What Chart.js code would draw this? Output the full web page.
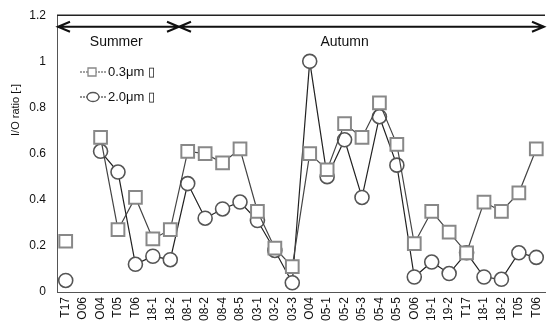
<!DOCTYPE html>
<html lang="en">
<head>
  <meta charset="UTF-8">
  <title>I/O ratio</title>
  <style>
    html, body { margin: 0; padding: 0; background: #fff; }
    #wrap { width: 556px; height: 323px; }
  </style>
</head>
<body>
  <div id="wrap"><canvas id="canvas"></canvas></div>
  <script src="https://cdn.jsdelivr.net/npm/chart.js"></script>
  <script>
    const labels = ['T17', 'O06', 'O04', 'T05', 'T06', '18-1', '18-2', '08-1', '08-2', '08-4', '08-5', '03-1', '03-2', '03-3',
      'O04', '05-1', '05-2', '05-3', '05-4', '05-5', 'O06', '19-1', '19-2', 'T17', '18-1', '18-2', 'T05', 'T06'];
    const ratio03 = [0.22, null, 0.67, 0.27, 0.41, 0.23, 0.27, 0.61, 0.60, 0.56, 0.62, 0.35, 0.19, 0.11,
      0.60, 0.53, 0.73, 0.67, 0.82, 0.64, 0.21, 0.35, 0.26, 0.17, 0.39, 0.35, 0.43, 0.62];
    const ratio20 = [0.05, null, 0.61, 0.52, 0.12, 0.155, 0.14, 0.47, 0.32, 0.36, 0.39, 0.31, 0.18, 0.04,
      1.0, 0.50, 0.66, 0.41, 0.76, 0.55, 0.065, 0.13, 0.08, 0.17, 0.065, 0.055, 0.17, 0.15];
    const seasons = [
      { name: 'Summer', from: -0.5, to: 6.5, textAt: 2.9 },
      { name: 'Autumn', from: 6.5, to: 27.6, textAt: 16 }
    ];
    const seriesNames = ['0.3\u03bcm \u25af', '2.0\u03bcm \u25af'];
    const yTitle = 'I/O ratio [-]';

    const font = 'Liberation Sans, Arial, sans-serif';

    // arrows, season names, y title and the legend inside the plot
    const extras = {
      id: 'extras',
      afterDraw(chart) {
        const ctx = chart.ctx;
        const x = chart.scales.x, y = chart.scales.y;
        const ay = y.getPixelForValue(1.15);
        ctx.save();
        ctx.strokeStyle = '#111';
        ctx.fillStyle = '#111';
        ctx.lineWidth = 2;
        seasons.forEach(s => {
          const x0 = Math.max(chart.chartArea.left + 1, x.getPixelForValue(s.from));
          const x1 = Math.min(chart.chartArea.right - 1, x.getPixelForValue(s.to));
          ctx.beginPath();
          ctx.moveTo(x0, ay); ctx.lineTo(x1, ay);
          ctx.moveTo(x0 + 12, ay - 5); ctx.lineTo(x0, ay); ctx.lineTo(x0 + 12, ay + 5);
          ctx.moveTo(x1 - 12, ay - 5); ctx.lineTo(x1, ay); ctx.lineTo(x1 - 12, ay + 5);
          ctx.stroke();
          ctx.font = '14px ' + font;
          ctx.textAlign = 'center';
          ctx.textBaseline = 'middle';
          ctx.fillText(s.name, x.getPixelForValue(s.textAt), 42);
        });
        // y title
        ctx.save();
        ctx.translate(16, 110);
        ctx.rotate(-Math.PI / 2);
        ctx.font = '11px ' + font;
        ctx.fillText(yTitle, 0, 0);
        ctx.restore();
        // legend
        chart.data.datasets.forEach((ds, i) => {
          const ly = 72 + i * 25;
          ctx.lineWidth = 1;
          ctx.strokeStyle = ds.borderColor;
          ctx.setLineDash([2, 1]);
          ctx.beginPath(); ctx.moveTo(80, ly); ctx.lineTo(106, ly); ctx.stroke();
          ctx.setLineDash([]);
          ctx.strokeStyle = ds.pointBorderColor;
          ctx.fillStyle = '#fff';
          ctx.lineWidth = 1.3;
          ctx.beginPath();
          if (ds.pointStyle === 'rect') ctx.rect(88, ly - 4, 8, 8);
          else { ctx.ellipse(93, ly, 6, 4.5, 0, 0, Math.PI * 2); }
          ctx.fill(); ctx.stroke();
          ctx.fillStyle = '#111';
          ctx.font = '13px ' + font;
          ctx.textAlign = 'left';
          ctx.fillText(ds.label, 108, ly);
        });
        ctx.restore();
      }
    };

    const data = {
      labels: labels,
      datasets: [{
        label: seriesNames[0],
        data: ratio03,
        borderColor: '#444',
        borderWidth: 1.2,
        pointStyle: 'rect',
        pointRadius: 9,
        pointBorderColor: '#888',
        pointBorderWidth: 2,
        pointBackgroundColor: '#fff',
        spanGaps: false
      }, {
        label: seriesNames[1],
        data: ratio20,
        borderColor: '#222',
        borderWidth: 1.2,
        pointStyle: 'circle',
        pointRadius: 7,
        pointBorderColor: '#555',
        pointBorderWidth: 1.6,
        pointBackgroundColor: '#fff',
        spanGaps: false
      }]
    };

    const config = {
      type: 'line',
      data: data,
      options: {
        responsive: true,
        maintainAspectRatio: false,
        animation: false,
        layout: { padding: { top: 9, right: 0, left: 0, bottom: 0 } },
        plugins: { legend: { display: false }, tooltip: { enabled: false } },
        scales: {
          x: {
            offset: true,
            grid: { display: false, drawTicks: true, tickLength: 3, color: '#555' },
            border: { color: '#555', dash: [2, 2], width: 1 },
            ticks: { minRotation: 90, maxRotation: 90, padding: 2, color: '#111', font: { size: 12, family: font }, autoSkip: false },
            afterFit(s) { s.height = 31; }
          },
          y: {
            min: 0, max: 1.2,
            grid: { display: false, tickLength: 3 },
            border: { color: '#555', dash: [2, 1], width: 1 },
            ticks: {
              stepSize: 0.2, padding: 8, color: '#111', font: { size: 12, family: font },
              callback: v => String(+v.toFixed(1))
            },
            afterFit(s) { s.width = 57; }
          }
        }
      },
      plugins: [extras, {
        id: 'topline',
        beforeDatasetsDraw(chart) {
          const a = chart.chartArea, ctx = chart.ctx;
          ctx.save();
          ctx.strokeStyle = '#222'; ctx.lineWidth = 1.5;
          ctx.beginPath(); ctx.moveTo(a.left, a.top); ctx.lineTo(a.right, a.top); ctx.stroke();
          ctx.restore();
        }
      }]
    };
    new Chart(document.getElementById('canvas'), config);
  </script>
</body>
</html>
